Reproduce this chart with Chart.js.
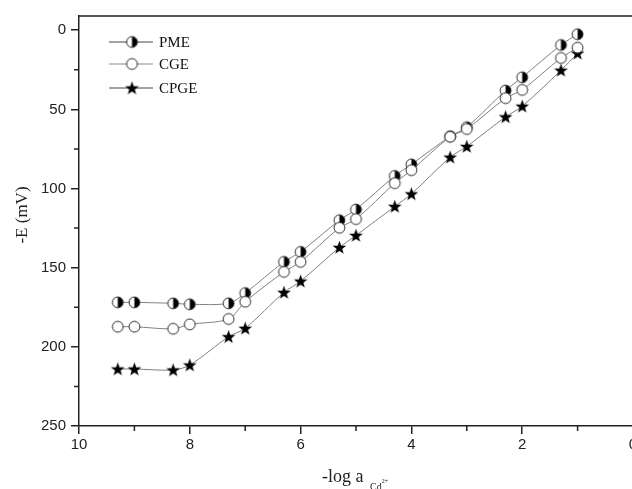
<!DOCTYPE html>
<html>
<head>
<meta charset="utf-8">
<script src="https://cdn.jsdelivr.net/npm/chart.js@4.4.0/dist/chart.umd.min.js"></script>
<style>
html,body{margin:0;padding:0;background:#fff;overflow:hidden;}
#wrap{width:660px;height:489px;}
</style>
</head>
<body>
<div id="wrap"><canvas id="myChart" width="660" height="489"></canvas></div>
<script>
// -log a(Cd2+) values and -E (mV) per electrode
var logA = [9.3, 9, 8.3, 8, 7.3, 7, 6.3, 6, 5.3, 5, 4.3, 4, 3.3, 3, 2.3, 2, 1.3, 1];
var pme  = [171.9, 171.9, 172.5, 173.1, 172.5, 166.0, 146.3, 140.0, 120.0, 113.2, 92.0, 84.7, 67.0, 61.2, 38.1, 29.7, 9.3, 2.5];
var cge  = [187.3, 187.3, 188.6, 185.8, 182.4, 171.5, 152.6, 146.3, 124.8, 119.3, 96.6, 88.4, 67.3, 62.4, 42.9, 37.7, 17.5, 11.0];
var cpge = [214.0, 214.0, 214.6, 211.5, 193.6, 188.3, 165.6, 158.5, 137.2, 129.6, 111.3, 103.4, 80.2, 73.4, 54.7, 48.0, 25.3, 14.5];
var seriesNames = ['PME', 'CGE', 'CPGE'];
var yTicks = [0, 25, 50, 75, 100, 125, 150, 175, 200, 225, 250];
var xTicks = [0, 1, 2, 3, 4, 5, 6, 7, 8, 9, 10];

function marker(kind) {
  var c = document.createElement('canvas');
  c.width = 15; c.height = 15;
  var g = c.getContext('2d');
  if (kind === 'star') {
    g.beginPath();
    for (var i = 0; i < 10; i++) {
      var r = i % 2 === 0 ? 7.2 : 2.9;
      var a = -Math.PI / 2 + i * Math.PI / 5;
      g.lineTo(7.5 + r * Math.cos(a), 8 + r * Math.sin(a));
    }
    g.closePath();
    g.fillStyle = '#000';
    g.fill();
    return c;
  }
  g.beginPath();
  g.arc(7.5, 7.5, 5.4, 0, Math.PI * 2);
  g.fillStyle = '#fff';
  g.fill();
  if (kind === 'half') {
    g.beginPath();
    g.arc(7.5, 7.5, 5.4, -Math.PI / 2, Math.PI / 2);
    g.closePath();
    g.fillStyle = '#000';
    g.fill();
  }
  g.beginPath();
  g.arc(7.5, 7.5, 5.4, 0, Math.PI * 2);
  g.lineWidth = 1;
  g.strokeStyle = '#222';
  g.stroke();
  return c;
}
var markers = [marker('half'), marker('open'), marker('star')];

function pts(arr) {
  return arr.map(function (v, i) { return {x: logA[i], y: v}; });
}

var decor = {
  id: 'decor',
  afterDraw: function (chart) {
    var ctx = chart.ctx, a = chart.chartArea;
    var xs = chart.scales.x, ys = chart.scales.y;
    ctx.save();
    // frame top / right
    ctx.strokeStyle = '#222';
    ctx.lineWidth = 1.5;
    ctx.beginPath();
    ctx.moveTo(a.left, a.top);
    ctx.lineTo(a.right, a.top);
    ctx.lineTo(a.right, a.bottom);
    ctx.stroke();

    // minor ticks (shorter)
    ctx.beginPath();
    xTicks.forEach(function (v) {
      if (v % 2 !== 0) {
        var px = xs.getPixelForValue(v);
        ctx.moveTo(px, a.bottom);
        ctx.lineTo(px, a.bottom + 5);
      }
    });
    yTicks.forEach(function (v) {
      if (v % 50 !== 0) {
        var py = ys.getPixelForValue(v);
        ctx.moveTo(a.left, py);
        ctx.lineTo(a.left - 5, py);
      }
    });
    ctx.stroke();

    // legend
    var rows = [42, 64, 88];
    ctx.font = '15px "Liberation Serif", "Times New Roman", serif';
    ctx.textBaseline = 'middle';
    for (var i = 0; i < 3; i++) {
      ctx.strokeStyle = i === 1 ? '#888' : '#444';
      ctx.lineWidth = 1;
      ctx.beginPath();
      ctx.moveTo(109, rows[i]);
      ctx.lineTo(153, rows[i]);
      ctx.stroke();
      ctx.drawImage(markers[i], 132 - 7.5, rows[i] - 7.5);
      ctx.fillStyle = '#111';
      ctx.fillText(seriesNames[i], 159, rows[i] + 1);
    }

    // y title
    ctx.save();
    ctx.translate(23, 215);
    ctx.rotate(-Math.PI / 2);
    ctx.textAlign = 'center';
    ctx.font = '17px "Liberation Serif", "Times New Roman", serif';
    ctx.fillStyle = '#222';
    ctx.fillText('-E (mV)', 0, 0);
    ctx.restore();

    // x title
    ctx.textBaseline = 'alphabetic';
    ctx.textAlign = 'left';
    ctx.fillStyle = '#222';
    ctx.font = '18px "Liberation Serif", "Times New Roman", serif';
    var x0 = 322;
    ctx.fillText('-log a', x0, 482);
    var w = ctx.measureText('-log a ').width;
    ctx.font = '10px "Liberation Serif", "Times New Roman", serif';
    ctx.fillText('Cd', x0 + w + 2, 490);
    var w2 = ctx.measureText('Cd').width;
    ctx.font = '6px "Liberation Serif", "Times New Roman", serif';
    ctx.fillText('2+', x0 + w + 2 + w2, 483);
    ctx.restore();
  }
};

var tickFont = {family: '"Liberation Sans", Arial, sans-serif', size: 15};

var ctx = document.getElementById('myChart').getContext('2d');
var chart = new Chart(ctx, {
  type: 'line',
  data: {
    datasets: [
      {label: seriesNames[0], data: pts(pme), pointStyle: markers[0], order: 2},
      {label: seriesNames[1], data: pts(cge), pointStyle: markers[1], order: 1},
      {label: seriesNames[2], data: pts(cpge), pointStyle: markers[2], order: 3}
    ]
  },
  options: {
    responsive: false,
    animation: false,
    layout: {padding: {left: 0, top: 16, right: 27, bottom: 0}},
    elements: {
      line: {borderColor: '#808080', borderWidth: 1, tension: 0.3, fill: false},
      point: {radius: 6, hoverRadius: 6}
    },
    plugins: {legend: {display: false}, tooltip: {enabled: false}},
    scales: {
      x: {
        type: 'linear',
        reverse: true,
        min: 0, max: 10,
        afterFit: function (s) { s.height = 63; },
        afterBuildTicks: function (s) {
          s.ticks = xTicks.map(function (v) { return {value: v}; });
        },
        ticks: {
          autoSkip: false, maxRotation: 0, padding: 2,
          color: '#222', font: tickFont,
          callback: function (v) { return v % 2 === 0 ? v : ''; }
        },
        grid: {
          drawOnChartArea: false, tickLength: 8, color: '#222', lineWidth: 1.5,
          tickColor: function (c) { return c.tick && c.tick.value % 2 === 0 ? '#222' : 'rgba(0,0,0,0)'; }
        },
        border: {color: '#222', width: 1.5}
      },
      y: {
        type: 'linear',
        reverse: true,
        min: -9, max: 250,
        afterFit: function (s) { s.width = 79; },
        afterBuildTicks: function (s) {
          s.ticks = yTicks.map(function (v) { return {value: v}; });
        },
        ticks: {
          autoSkip: false, padding: 5,
          color: '#222', font: tickFont,
          callback: function (v) { return v % 50 === 0 ? v : ''; }
        },
        grid: {
          drawOnChartArea: false, tickLength: 8, color: '#222', lineWidth: 1.5,
          tickColor: function (c) { return c.tick && c.tick.value % 50 === 0 ? '#222' : 'rgba(0,0,0,0)'; }
        },
        border: {color: '#222', width: 1.5}
      }
    }
  },
  plugins: [decor]
});
</script>
</body>
</html>
